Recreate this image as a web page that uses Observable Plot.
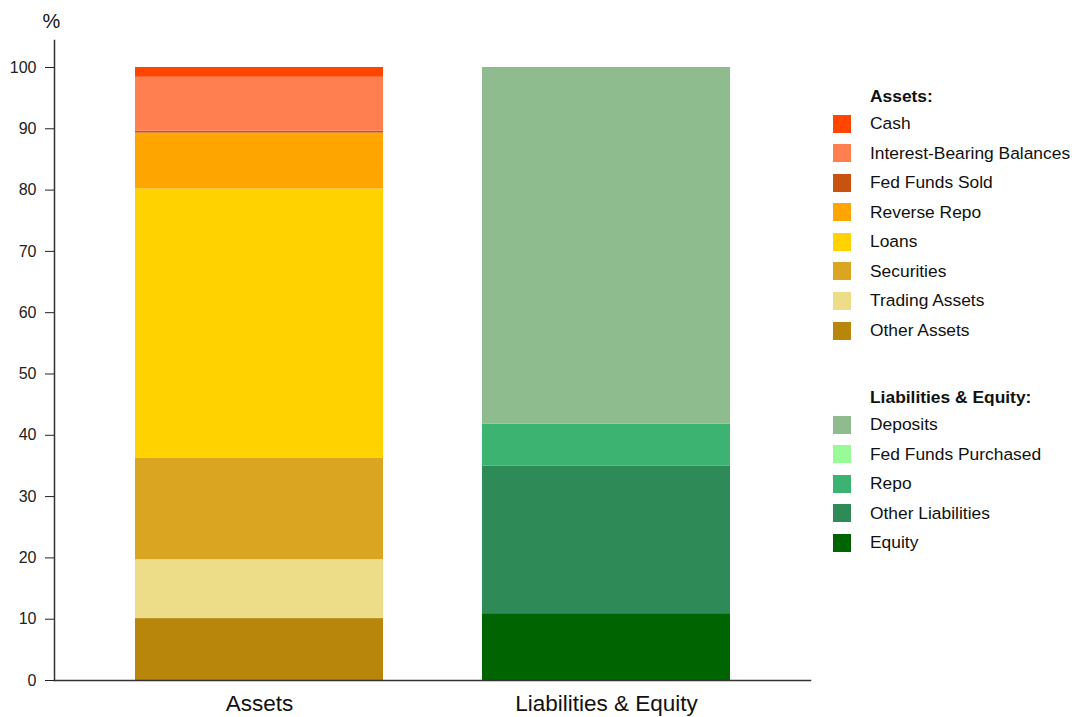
<!DOCTYPE html>
<html>
<head>
<meta charset="utf-8">
<script src="https://cdn.jsdelivr.net/npm/d3@7"></script>
<script src="https://cdn.jsdelivr.net/npm/@observablehq/plot@0.6"></script>
<style>
  body { margin: 0; background: #fff; font-family: "Liberation Sans", Arial, sans-serif; }
  #wrap { position: relative; width: 1080px; height: 717px; }
  #legend { position: absolute; left: 833px; top: 80px; font-size: 17.4px; color: #111; }
  .row { position: absolute; left: 0; height: 20px; display: flex; align-items: center; white-space: nowrap; }
  .sw { width: 18px; height: 18px; margin-right: 19px; flex: none; }
  .hdr { font-weight: bold; padding-left: 37px; }
</style>
</head>
<body>
<div id="wrap"><div id="legend"></div></div>
<script>
const categories = ["Assets", "Liabilities & Equity"];
const assetNames = ["Cash", "Interest-Bearing Balances", "Fed Funds Sold", "Reverse Repo", "Loans", "Securities", "Trading Assets", "Other Assets"];
const assetValues = [1.6, 8.8, 0.3, 9.1, 43.9, 16.6, 9.6, 10.1];
const assetColors = ["#ff4500", "#ff7f50", "#c7530f", "#ffa500", "#ffd200", "#daa520", "#eedd88", "#b8860b"];
const liabNames = ["Deposits", "Fed Funds Purchased", "Repo", "Other Liabilities", "Equity"];
const liabValues = [58.2, 0, 6.8, 24.1, 10.9];
const liabColors = ["#8fbc8f", "#98fb98", "#3cb371", "#2e8b57", "#006400"];
const yTicks = [0, 10, 20, 30, 40, 50, 60, 70, 80, 90, 100];

// stack bottom-up: reverse legend order
const data = [];
categories.forEach((cat, c) => {
  const names = c === 0 ? assetNames : liabNames;
  const vals = c === 0 ? assetValues : liabValues;
  const cols = c === 0 ? assetColors : liabColors;
  for (let i = names.length - 1; i >= 0; i--) data.push({cat, name: names[i], value: vals[i], color: cols[i]});
});

const chart = Plot.plot({
  width: 1080,
  height: 717,
  marginLeft: 54,
  marginRight: 270,
  marginTop: 40,
  marginBottom: 37,
  style: {fontFamily: "'Liberation Sans', Arial, sans-serif", background: "#fff", overflow: "visible"},
  x: {domain: categories, range: [36, 829], padding: 0.285},
  y: {domain: [0, 104.4]},
  marks: [
    Plot.barY(data, {x: "cat", y: "value", fill: "color", order: null}),
    Plot.axisY({ticks: yTicks, tickSize: 9, tickPadding: 9, fontSize: 16, color: "#222", label: null}),
    Plot.axisX({tickSize: 0, tickPadding: 15, fontSize: 22.5, color: "#111", label: null}),
    Plot.frame({anchor: "left", stroke: "#333", strokeWidth: 1.5}),
    Plot.frame({anchor: "bottom", stroke: "#333", strokeWidth: 1.5}),
    Plot.text(["%"], {frameAnchor: "top-left", textAnchor: "start", lineAnchor: "middle", dx: -12, dy: -19, fontSize: 20, fill: "#111"})
  ]
});
document.getElementById("wrap").prepend(chart);

// legend
const legend = document.getElementById("legend");
const step = 29.57;
function addHeader(text, y) {
  const d = document.createElement("div");
  d.className = "row hdr"; d.style.top = y + "px"; d.textContent = text;
  legend.appendChild(d);
}
function addItem(name, color, y) {
  const d = document.createElement("div");
  d.className = "row"; d.style.top = y + "px";
  const s = document.createElement("span"); s.className = "sw"; s.style.background = color;
  const t = document.createElement("span"); t.textContent = name;
  d.appendChild(s); d.appendChild(t);
  legend.appendChild(d);
}
addHeader("Assets:", 6);
assetNames.forEach((n, i) => addItem(n, assetColors[i], 4 + step * (i + 1)));
addHeader("Liabilities & Equity:", 307);
liabNames.forEach((n, i) => addItem(n, liabColors[i], 305 + step * (i + 1)));
</script>
</body>
</html>
